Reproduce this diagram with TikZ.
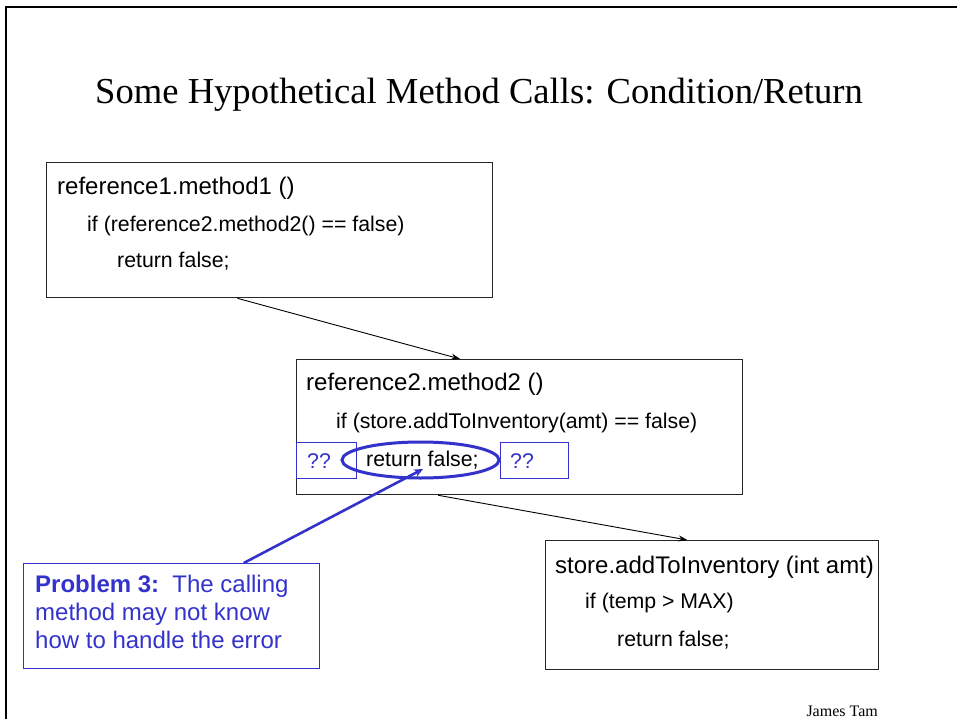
\documentclass[tikz,border=0pt]{standalone}
\usepackage{fontspec}
\setmainfont{Liberation Sans}
\newfontfamily\seriffont{Liberation Serif}
\usetikzlibrary{arrows.meta,shapes.geometric,calc}
\definecolor{pblue}{RGB}{51,51,204}
\begin{document}
\begin{tikzpicture}[x=1pt,y=-1pt,
  codebox/.style={draw=black!85, line width=1.3pt, rectangle, inner sep=0pt, anchor=north west},
  bluebox/.style={draw=pblue, line width=1.1pt, rectangle, inner sep=0pt, anchor=north west},
  big/.style={font=\fontsize{24}{28}\selectfont, inner sep=0pt, anchor=base west},
  small/.style={font=\fontsize{21.3}{25}\selectfont, inner sep=0pt, anchor=base west},
  bluetxt/.style={font=\fontsize{24}{28}\selectfont, text=pblue, inner sep=0pt, anchor=base west},
  qtxt/.style={font=\fontsize{21.3}{25}\selectfont, text=pblue, inner sep=0pt, anchor=base west},
  callarrow/.style={draw=black, line width=0.9pt, -{Stealth[length=9pt,width=6pt]}},
  bluearrow/.style={draw=pblue, line width=2.6pt, -{Stealth[length=9pt,width=8pt]}}
]
\useasboundingbox (0,0) rectangle (957,719);
% slide frame
\draw[line width=2.2pt] (6,719) -- (6,7) -- (957,7);
% title
\node[font=\seriffont\fontsize{36.6}{44}\selectfont, inner sep=0pt, anchor=base] (title) at (479,104) {Some Hypothetical Method Calls: Condition/Return};
% box 1
\node[codebox, minimum width=446pt, minimum height=135pt] (m1) at (46,162) {};
\node[big] (m1a) at (57,195) {reference1.method1 ()};
\node[small] (m1b) at (87,232) {if (reference2.method2() == false)};
\node[small] (m1c) at (117,267) {return false;};
% box 2
\node[codebox, minimum width=446pt, minimum height=135pt] (m2) at (296,359) {};
\node[big] (m2a) at (306,390) {reference2.method2 ()};
\node[small] (m2b) at (336,428) {if (store.addToInventory(amt) == false)};
\node[bluebox, minimum width=60pt, minimum height=36pt] (q1) at (296,442) {};
\node[qtxt] (q1t) at (307,468) {??};
\node[bluebox, minimum width=68pt, minimum height=36pt] (q2) at (500,442) {};
\node[qtxt] (q2t) at (510,468) {??};
\node[draw=pblue, line width=3pt, ellipse, minimum width=157pt, minimum height=36pt, inner sep=0pt] (ell) at (420.5,460) {};
\node[small] (m2c) at (366,466) {return false;};
% box 3
\node[codebox, minimum width=333pt, minimum height=129pt] (m3) at (545,540) {};
\node[big] (m3a) at (555,573) {store.addToInventory (int amt)};
\node[small] (m3b) at (585,608) {if (temp > MAX)};
\node[small] (m3c) at (617,646) {return false;};
% problem note
\node[bluebox, minimum width=296pt, minimum height=105pt] (prob) at (23,563) {};
\node[bluetxt] (p1) at (35,592) {\textbf{Problem 3:}\hspace{0.55em}The calling};
\node[bluetxt] (p2) at (35,620) {method may not know};
\node[bluetxt] (p3) at (35,648) {how to handle the error};
% author
\node[font=\seriffont\fontsize{16}{18}\selectfont, inner sep=0pt, anchor=base east] (author) at (878,716) {James Tam};
% connectors
\draw[callarrow] ($(m1.south west)!0.428!(m1.south east)$) -- ($(m2.north west)!0.367!(m2.north east)$);
\draw[callarrow] ($(m2.south west)!0.318!(m2.south east)$) -- ($(m3.north west)!0.426!(m3.north east)$);
\coordinate (tip) at (423,469);
\draw[bluearrow] ($(prob.north west)!0.743!(prob.north east)$) -- (tip);
\end{tikzpicture}
\end{document}
